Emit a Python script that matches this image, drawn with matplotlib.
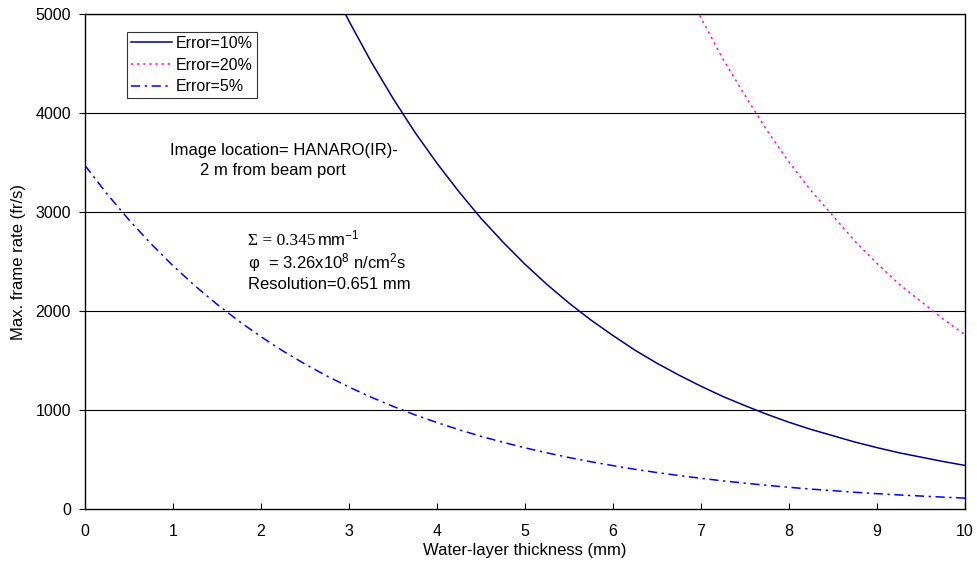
import numpy as np
import matplotlib.pyplot as plt

plt.rcParams['font.family'] = ['Liberation Sans', 'DejaVu Sans']
plt.rcParams['mathtext.fontset'] = 'custom'
plt.rcParams['mathtext.rm'] = 'Liberation Sans'
plt.rcParams['mathtext.it'] = 'Liberation Sans'

# values (frame rate, fr/s)
x5 = [0, 0.25, 0.5, 0.75, 1, 1.25, 1.5, 1.75, 2, 2.25, 2.5, 2.75, 3, 3.25, 3.5, 3.75,
      4, 4.25, 4.5, 4.75, 5, 5.25, 5.5, 5.75, 6, 6.25, 6.5, 6.75, 7, 7.25, 7.5, 7.75,
      8, 8.25, 8.5, 8.75, 9, 9.25, 9.5, 9.75, 10]
err5 = [3470, 3183, 2920, 2679, 2457, 2254, 2068, 1897, 1740, 1596, 1464, 1343,
        1232, 1130, 1037, 951, 873, 801, 734, 674, 618, 567, 520, 477, 438, 401,
        368, 338, 310, 284, 261, 239, 219, 201, 185, 169, 155, 142, 131, 120, 110]

x10 = [2.75, 3, 3.25, 3.5, 3.75, 4, 4.25, 4.5, 4.75, 5, 5.25, 5.5, 5.75, 6, 6.25,
       6.5, 6.75, 7, 7.25, 7.5, 7.75, 8, 8.25, 8.5, 8.75, 9, 9.25, 9.5, 9.75, 10]
err10 = [5372, 4928, 4520, 4148, 3804, 3492, 3204, 2936, 2696, 2472, 2268, 2080,
         1908, 1752, 1604, 1472, 1352, 1240, 1136, 1044, 956, 876, 804, 740, 676,
         620, 568, 524, 480, 440]

x20 = [6.75, 7, 7.25, 7.5, 7.75, 8, 8.25, 8.5, 8.75, 9, 9.25, 9.5, 9.75, 10]
err20 = [5408, 4960, 4544, 4176, 3824, 3504, 3216, 2960, 2704, 2480, 2272, 2096,
         1920, 1760]

fig = plt.figure(figsize=(9.78, 5.7), dpi=100)
ax = fig.add_axes([85/978, 61/570, 880/978, 495/570])

for yv in range(1000, 5001, 1000):
    ax.axhline(yv, color='black', lw=0.8, zorder=1)

ax.plot(x10, err10, color='#000080', lw=1.1, label='Error=10%', zorder=3)
ax.plot(x20, err20, color='#ff00ff', lw=1.1, ls=(0, (1.5, 2.5)), label='Error=20%', zorder=3)
ax.plot(x5, err5, color='#0000ff', lw=1.1, ls=(0, (6, 3, 1.5, 3)), label='Error=5%', zorder=3)

ax.set_xlim(0, 10)
ax.set_ylim(0, 5000)
ax.set_xticks(range(0, 11))
ax.set_yticks(range(0, 5001, 1000))
ax.tick_params(axis='x', direction='in', length=4, labelsize=11.5, pad=11)
ax.tick_params(axis='y', direction='out', length=4, labelsize=11.5, pad=6)
for s in ax.spines.values():
    s.set_linewidth(1.0)

ax.set_xlabel('Water-layer thickness (mm)', fontsize=12, labelpad=3)
ax.set_ylabel('Max. frame rate (fr/s)', fontsize=12, labelpad=7)

leg = ax.legend(loc='upper left', bbox_to_anchor=(0.0477, 0.9636), borderaxespad=0,
                fontsize=11.5, frameon=True, fancybox=False, edgecolor='black',
                handlelength=2.6, borderpad=0.25, labelspacing=0.42, handletextpad=0.2)
leg.get_frame().set_linewidth(0.8)

ax.text(0.966, 3626, 'Image location= HANARO(IR)-', ha='left', va='center', fontsize=12)
ax.text(1.307, 3424, '2 m from beam port', ha='left', va='center', fontsize=12)

# parameter block
ax.text(1.85, 2667, 'Σ = 0.345', family='Liberation Serif', fontsize=12.5,
        ha='left', va='baseline')
ax.text(2.64, 2667, 'mm$^{-1}$', fontsize=12, ha='left', va='baseline')
ax.text(1.85, 2485, 'φ  = 3.26x10$^8$ n/cm$^2$s', fontsize=12, ha='left', va='center')
ax.text(1.85, 2263, 'Resolution=0.651 mm', fontsize=12, ha='left', va='center')

fig.savefig('out.png', dpi=100)
